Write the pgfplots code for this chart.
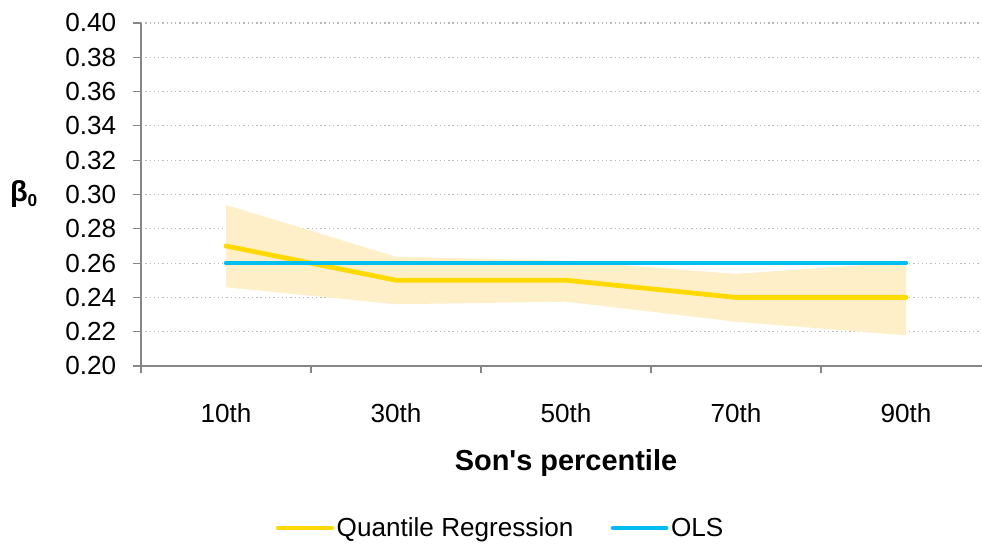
\documentclass[border=0pt]{standalone}
\usepackage{fontspec}
\setmainfont{Liberation Sans}
\usepackage{pgfplots}
\pgfplotsset{compat=1.18}
\usepgfplotslibrary{fillbetween}
\definecolor{qrline}{RGB}{255,217,0}
\definecolor{qrband}{RGB}{255,239,201}
\definecolor{olsblue}{RGB}{0,191,240}
\definecolor{axgray}{RGB}{134,134,134}
\definecolor{gridgray}{RGB}{185,185,185}
\begin{document}
\begin{tikzpicture}
\begin{axis}[
  scale only axis,
  width=637.5pt, height=257.25pt,
  xmin=-0.5, xmax=4.5, ymin=0.2, ymax=0.4,
  axis x line=bottom, axis y line=left,
  axis line style={axgray, line width=0.8pt, -},
  tick style={axgray, line width=0.8pt},
  tick align=outside,
  xtick={0,1,2,3,4},
  xticklabels={10th,30th,50th,70th,90th},
  minor xtick={-0.5,0.5,1.5,2.5,3.5,4.5},
  major x tick style={draw=none},
  major tick length=6pt,
  minor tick length=5.5pt,
  ytick={0.20,0.22,0.24,0.26,0.28,0.30,0.32,0.34,0.36,0.38,0.40},
  yticklabel style={/pgf/number format/fixed, /pgf/number format/fixed zerofill, /pgf/number format/precision=2, /pgf/number format/assume math mode=true, xshift=-9pt},
  tick label style={font=\fontsize{19.6}{23}\selectfont, text=black},
  xticklabel style={yshift=-19pt},
  ymajorgrids,
  major grid style={gridgray, line width=0.8pt, dash pattern=on 1pt off 2.2pt},
  xlabel={\textbf{Son\textquotesingle s percentile}},
  xlabel style={at={(axis description cs:0.5,0)}, anchor=center, yshift=-73pt, font=\fontsize{21.7}{25}\selectfont},
  ylabel={\textbf{β{\fontsize{13}{15}\selectfont\raisebox{-0.25em}{0}}}},
  ylabel style={rotate=-90, at={(axis description cs:0,0.5)}, anchor=center, xshift=-88pt, font=\fontsize{21.7}{25}\selectfont},
  legend columns=2,
  legend style={draw=none, fill=none, at={(axis description cs:0.4235,-0.4723)}, anchor=center,
    font=\fontsize{19.6}{23}\selectfont, column sep=0pt,
    /tikz/every even column/.append style={column sep=26pt}},
  legend cell align=left,
  legend image code/.code={\draw[#1, line cap=round] (0pt,0pt) -- (40pt,0pt);},
]
\addplot[name path=upper, draw=none, forget plot] coordinates {(0,0.2939) (1,0.2637) (2,0.2614) (3,0.2537) (4,0.2606)};
\addplot[name path=lower, draw=none, forget plot] coordinates {(0,0.2459) (1,0.2360) (2,0.2375) (3,0.2258) (4,0.2179)};
\addplot[qrband, draw=none, forget plot] fill between[of=upper and lower];
\addplot[qrline, line width=3.6pt, line cap=round, line join=round] coordinates {(0,0.27) (1,0.25) (2,0.25) (3,0.24) (4,0.24)};
\addlegendentry{Quantile Regression}
\addplot[olsblue, line width=3.2pt, line cap=round] coordinates {(0,0.26) (1,0.26) (2,0.26) (3,0.26) (4,0.26)};
\addlegendentry{OLS}
\end{axis}
\pgfresetboundingbox
\path (-105.75pt,-138pt) rectangle (630.75pt,274.5pt);
\end{tikzpicture}
\end{document}
